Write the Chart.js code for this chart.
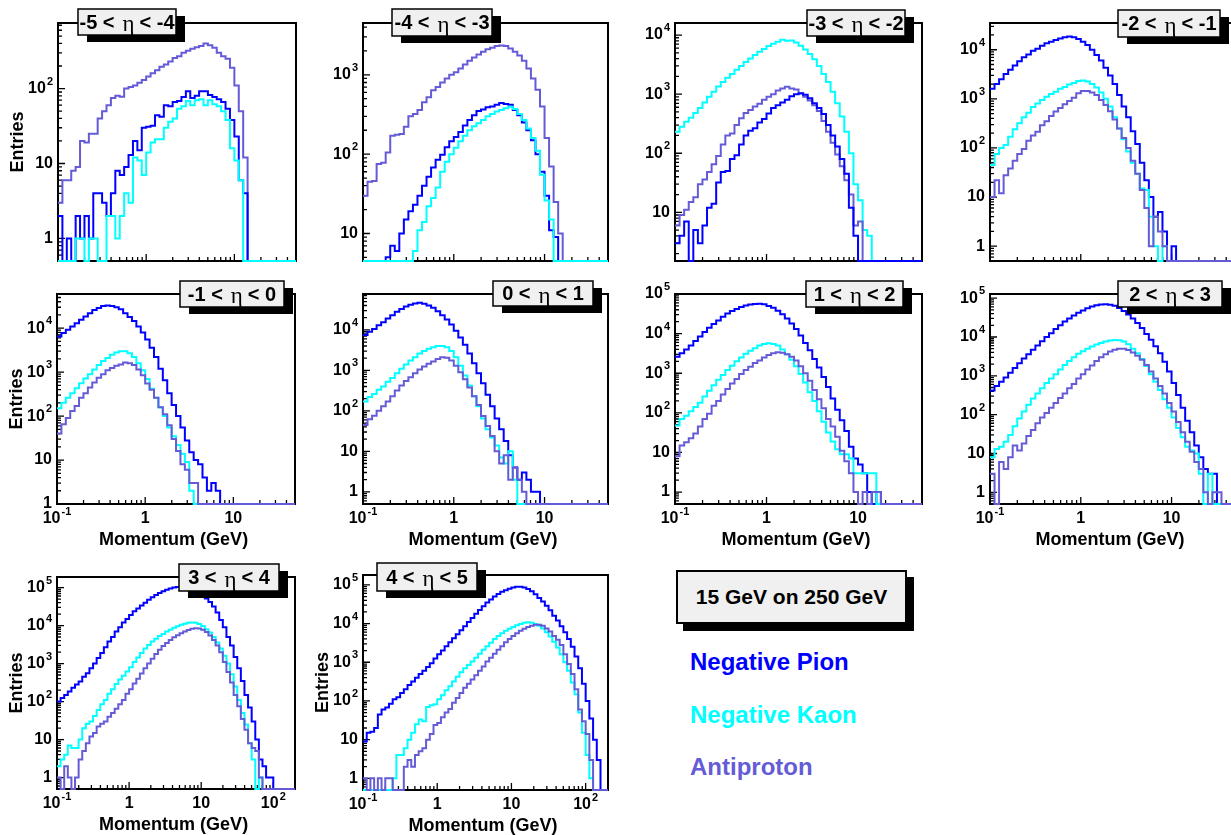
<!DOCTYPE html>
<html>
<head>
<meta charset="utf-8">
<title>Momentum spectra, 15 GeV on 250 GeV</title>
<script src="https://cdn.jsdelivr.net/npm/chart.js@4.4.1/dist/chart.umd.min.js"></script>
<style>
  html, body { margin: 0; padding: 0; background: #fff; }
  body { width: 1231px; height: 835px; overflow: hidden; position: relative;
         font-family: "Liberation Sans", Arial, sans-serif; }
  canvas { position: absolute; }
  .legend-box { position: absolute; left: 676px; top: 570px; width: 231px; height: 54px;
                box-sizing: border-box; background: #f0f0f0; border: 2px solid #000;
                box-shadow: 7px 7px 0 #000; font-weight: bold; font-size: 21px;
                line-height: 50px; text-align: center; color: #000; }
  .legend-item { position: absolute; left: 690px; font-weight: bold; font-size: 24px; line-height: 24px; }
</style>
</head>
<body>
<div class="legend-box">15 GeV on 250 GeV</div>
<div class="legend-item" style="top:650px;color:#0000ff">Negative Pion</div>
<div class="legend-item" style="top:703px;color:#00ffff">Negative Kaon</div>
<div class="legend-item" style="top:755px;color:#655bd6">Antiproton</div>

<script>
// histogram binning: 20 bins per decade starting at 0.1 GeV
const binsPerDecade = 20;
const pMin = 0.1;

// eta ranges of the ten panels
const etaRanges = [[-5, -4], [-4, -3], [-3, -2], [-2, -1], [-1, 0], [0, 1], [1, 2], [2, 3], [3, 4], [4, 5]];
// axis ranges
const pMax = [50, 50, 50, 50, 50, 50, 50, 50, 200, 200];
const entriesMin = [0.5, 4.5, 1.5, 0.5, 1, 0.5, 0.5, 0.5, 0.5, 0.5];
const entriesMax = [750, 4500, 16000, 35000, 60000, 77000, 100000, 128000, 190000, 180000];

// entries per bin (bin k starts at 0.1 * 10^(k/20) GeV)
const pion_m5_m4 = [2,0,1,0,2,1,2,1,4,4, 3,2,4,8,7,9,13,20,15,30, 31,32,44,42,60,58,66,68,77,92, 75,80,92,92,82,77,72,66,54,38, 23,6,4];
const kaon_m5_m4 = [0,0,0,0,1,1,0,1,1,0, 0,2,2,1,2,4,3,12,11,7, 14,19,21,21,30,36,40,54,58,68, 60,70,72,60,70,62,58,50,38,16, 11,6];
const pbar_m5_m4 = [3,6,6,8,9,20,19,25,25,40, 50,60,75,80,78,100,105,110,120,130, 145,160,175,195,210,230,255,270,300,320, 340,355,370,400,380,350,300,270,250,190, 110,50,12];

const pion_m4_m3 = [0,0,0,0,0,5,7,6,10,15, 19,23,30,40,52,68,85,98,122,145, 165,190,230,270,310,350,365,390,400,420, 440,430,420,360,310,250,200,150,100,60, 30,11,9];
const kaon_m4_m3 = [0,0,0,0,0,0,0,0,0,0, 0,6,11,14,22,28,38,60,80,100, 120,145,170,200,225,245,270,300,320,345, 360,380,395,370,320,270,210,160,110,55, 26,15];
const pbar_m4_m3 = [30,45,46,75,78,105,170,175,180,222, 300,320,360,450,520,640,700,800,900,1000, 1080,1200,1350,1500,1650,1800,1950,2100,2200,2300, 2350,2300,2150,1950,1750,1500,1200,900,650,400, 160,70,25,10];

const pion_m3_m2 = [3,4,7,0,5,3,6,12,14,32, 48,50,80,92,140,200,240,265,330,380, 470,580,650,720,800,920,1000,1030,980,850, 700,580,460,300,200,130,80,45,12,4];
const kaon_m3_m2 = [230,280,340,400,480,580,720,900,1100,1350, 1600,1900,2200,2600,3000,3500,4000,4600,5200,5800, 6500,7100,7700,8300,8000,8100,7500,6600,5700,4800, 3900,3000,2200,1600,1100,700,420,230,100,30, 16,5,4];
const pbar_m3_m2 = [6,9,11,15,18,30,36,48,65,90, 140,200,215,300,390,480,540,620,690,800, 900,1000,1150,1250,1340,1250,1200,1050,900,780, 650,520,350,230,150,95,60,35,20,6, 7];

const pion_m2_m1 = [1600,2000,2500,3200,3900,4800,5800,7000,8000,9500, 10500,12000,13500,14500,15800,17000,18000,18500,18000,16500, 14500,12500,10000,7800,6000,4300,3000,2000,1200,700, 420,220,120,50,22,10,4,5,2,0, 1];
const kaon_m2_m1 = [45,75,100,115,170,240,320,420,520,680, 800,950,1100,1250,1400,1600,1750,1950,2100,2300, 2350,2250,2000,1700,1350,1000,700,420,250,150, 85,50,30,15,14,4,1,0,1];
const pbar_m2_m1 = [10,22,12,28,38,55,75,95,140,180, 215,290,350,450,550,650,780,900,1050,1300, 1450,1450,1350,1200,950,750,560,380,250,160, 100,55,30,14,6,1,4,2,1];

const pion_m1_0 = [6500,7800,9200,11000,13000,15500,18500,22000,26000,29000, 32000,33000,32000,30000,27000,22000,18000,14500,11000,8000, 5500,3600,2200,1200,650,330,180,100,55,28, 15,10,8,4,2,3,2];
const kaon_m1_0 = [150,200,260,330,430,560,720,900,1150,1450, 1800,2100,2500,2800,3000,3000,2700,2200,1600,1100, 700,420,260,160,100,55,35,22,14,9, 2];
const pbar_m1_0 = [40,65,90,130,170,260,330,450,580,750, 900,1100,1250,1400,1500,1650,1600,1450,1150,850, 550,400,260,160,110,62,30,16,8,6, 3,3];

const pion_0_1 = [7500,9000,10500,13000,15500,19000,23000,28000,33000,38000, 42000,45000,46500,44000,40000,35000,29000,23000,18000,13500, 9500,6500,4300,2600,1500,850,480,250,130,65, 35,18,8,4,2,3,2,1,1];
const kaon_0_1 = [170,220,260,330,400,520,650,850,1100,1400, 1750,2100,2600,3000,3400,3700,4000,4000,3700,3000, 2100,1300,750,420,230,130,65,35,22,14, 7,5,10,2];
const pbar_0_1 = [45,62,76,100,130,170,230,320,420,550, 680,850,1050,1250,1450,1650,1900,2100,2050,1750, 1300,900,600,380,230,140,75,42,24,10, 5,8,2,4,2,1];

const pion_1_2 = [2600,3200,4000,5000,6500,8500,11000,14000,17500,21500, 26500,32000,37000,42000,47000,51000,54000,56000,56500,55000, 50000,45000,38000,31000,24000,18000,13000,9000,5800,3800, 2300,1400,800,450,230,120,65,35,14,7, 5,3,1,0,1];
const kaon_1_2 = [48,70,85,110,140,180,260,360,500,680, 900,1200,1550,2000,2500,3100,3700,4300,5000,5500, 5700,5500,5000,4000,3000,2200,1500,950,580,330, 200,110,60,32,19,12,9,9,7,3, 3,3,3,3];
const pbar_1_2 = [8,15,18,23,30,45,70,95,150,200, 290,400,550,720,950,1200,1450,1800,2100,2500, 2900,3200,3400,3300,3000,2600,2100,1500,1000,650, 380,220,130,70,45,25,11,6,3,1, 0,1,0,1,1];

const pion_2_3 = [420,550,700,900,1200,1600,2100,2800,3600,4700, 6000,7800,10000,12500,16000,20000,25000,30000,36000,42000, 48000,55000,61000,66000,69000,70000,68000,64000,56000,47000, 38000,30000,23000,17000,12000,8500,5800,3800,2300,1300, 650,320,150,70,35,16,8,4,3,3];
const kaon_2_3 = [8,13,15,20,30,50,80,120,180,260, 350,480,650,850,1100,1450,1900,2400,3000,3700, 4300,5000,5700,6400,7000,7600,8100,8400,8300,7700, 6500,5000,3800,2700,1800,1100,700,430,250,150, 85,45,26,15,12,10,3,0,3];
const pbar_2_3 = [3,0,6,4,8,16,12,18,28,40, 60,85,110,150,200,270,350,480,620,850, 1100,1450,1850,2400,3000,3600,4200,4700,5000,5000, 4600,4000,3300,2600,1900,1300,850,550,350,200, 120,65,35,20,11,6,4,1,0,1, 1];

const pion_3_4 = [100,125,150,185,230,280,340,450,560,750, 1000,1400,1900,2700,3800,5000,7000,9000,12000,15000, 19000,24000,28000,34000,40000,48000,56000,64000,72000,80000, 88000,95000,100000,103000,103000,100000,95000,88000,80000,70000, 60000,52000,42000,32000,22000,14000,9000,5000,3000,1500, 750,350,150,70,30,10,3,2,1,1];
const kaon_3_4 = [2,3,4,7,6,6,10,20,26,30, 42,60,85,110,160,210,290,380,480,620, 800,1100,1450,1900,2500,3100,3800,4500,5300,6000, 7000,7800,8800,9600,10500,11200,11800,12000,11800,11000, 9800,8000,6600,5000,3600,2500,1600,1000,520,250, 110,50,25,8,3,0,1];
const pbar_3_4 = [1,0,2,1,0,1,3,5,8,12, 15,22,26,30,40,50,65,85,110,160, 210,300,400,550,750,1000,1350,1800,2300,2900, 3500,4200,4900,5600,6300,7000,7700,8200,8500,8400, 7800,6800,5500,4200,3000,2000,1100,600,320,150, 75,35,18,8,6,5,1];

const pion_4_5 = [9,15,16,20,45,60,68,85,110,125, 160,200,260,320,400,500,600,760,950,1250, 1600,2000,2600,3300,4200,5300,6700,8500,11000,14000, 18000,22500,28000,35000,42000,50000,58000,66000,73000,80000, 86000,90000,90000,85000,78000,68000,57000,46000,37000,29000, 22000,16000,12000,8500,6000,4000,2500,1400,700,280, 100,35,10,3];
const kaon_4_5 = [0,0,0,0,0,0,0,0,1,4, 4,6,10,15,25,33,30,70,78,82, 110,140,190,240,320,420,550,700,850,1050, 1300,1650,2100,2600,3200,4000,4800,5600,6500,7300, 8200,9000,9800,10500,10800,10500,9800,8800,7500,6000, 4600,3400,2400,1600,1000,600,300,150,50,15, 4,1];
const pbar_4_5 = [1,0,1,0,1,0,1,1,0,0, 0,2,3,2,4,5,6,10,14,24, 27,38,50,62,90,120,160,220,280,360, 460,600,780,1050,1300,1650,2100,2600,3300,4000, 4800,5600,6500,7300,8100,8800,9300,9300,8800,7500, 6200,4800,3800,2800,1600,900,500,200,60,30, 14,3];

const pionSeries = [pion_m5_m4, pion_m4_m3, pion_m3_m2, pion_m2_m1, pion_m1_0, pion_0_1, pion_1_2, pion_2_3, pion_3_4, pion_4_5];
const kaonSeries = [kaon_m5_m4, kaon_m4_m3, kaon_m3_m2, kaon_m2_m1, kaon_m1_0, kaon_0_1, kaon_1_2, kaon_2_3, kaon_3_4, kaon_4_5];
const pbarSeries = [pbar_m5_m4, pbar_m4_m3, pbar_m3_m2, pbar_m2_m1, pbar_m1_0, pbar_0_1, pbar_1_2, pbar_2_3, pbar_3_4, pbar_4_5];

const colors = { pion: '#0000ff', kaon: '#00ffff', pbar: '#655bd6' };

// page layout of each frame, its eta box, and which histogram is drawn on top
const layout = [
  { left: 58,  top: 23,  width: 238, height: 238, box: [78, 9, 98, 26],    xLabels: false, yTitle: true,  front: ['kaon', 'pion', 'pbar'] },
  { left: 363, top: 23,  width: 245, height: 238, box: [392, 9, 100, 27],  xLabels: false, yTitle: false, front: ['kaon', 'pion', 'pbar'] },
  { left: 675, top: 23,  width: 247, height: 238, box: [807, 10, 98, 26],  xLabels: false, yTitle: false, front: ['pion', 'pbar', 'kaon'] },
  { left: 990, top: 23,  width: 245, height: 238, box: [1118, 10, 102, 27], xLabels: false, yTitle: false, front: ['pbar', 'kaon', 'pion'] },
  { left: 57,  top: 294, width: 238, height: 210, box: [180, 281, 104, 26], xLabels: true,  yTitle: true,  front: ['pbar', 'kaon', 'pion'] },
  { left: 363, top: 294, width: 245, height: 210, box: [493, 281, 100, 25], xLabels: true,  yTitle: false, front: ['pbar', 'kaon', 'pion'] },
  { left: 675, top: 294, width: 247, height: 210, box: [806, 281, 97, 26],  xLabels: true,  yTitle: false, front: ['pbar', 'kaon', 'pion'] },
  { left: 990, top: 294, width: 245, height: 210, box: [1118, 281, 104, 26], xLabels: true, yTitle: false, front: ['pbar', 'kaon', 'pion'] },
  { left: 57,  top: 577, width: 238, height: 212, box: [179, 564, 100, 27], xLabels: true,  yTitle: true,  front: ['pbar', 'kaon', 'pion'] },
  { left: 363, top: 575, width: 245, height: 215, box: [377, 563, 100, 28], xLabels: true,  yTitle: true,  front: ['pbar', 'kaon', 'pion'] }
];

const pad = { left: 58, right: 12, top: 25, bottom: 50 };
const sansBold = (size) => `bold ${size}px "Liberation Sans", Arial, sans-serif`;

function histPoints(values, xMax, yMin) {
  const nBins = Math.ceil(Math.log10(xMax / pMin) * binsPerDecade - 1e-9);
  const pts = [];
  let last = yMin;
  for (let k = 0; k < nBins; k++) {
    const v = values[k] > 0 ? values[k] : 0;
    last = Math.max(v, yMin);
    pts.push({ x: pMin * Math.pow(10, k / binsPerDecade), y: last });
  }
  pts.push({ x: xMax, y: last });
  return pts;
}

function drawPowLabel(ctx, exp, x, y, align) {
  const base = exp === 0 ? '1' : '10';
  const sup = exp === 0 || exp === 1 ? '' : String(exp);
  ctx.font = sansBold(16);
  const wb = ctx.measureText(base).width;
  let ws = 0;
  if (sup) { ctx.font = sansBold(11); ws = ctx.measureText(sup).width + 1; }
  const w = wb + ws;
  const x0 = align === 'right' ? x - w : x - w / 2;
  ctx.textAlign = 'left';
  ctx.textBaseline = 'middle';
  ctx.font = sansBold(16);
  ctx.fillText(base, x0, y);
  if (sup) { ctx.font = sansBold(11); ctx.fillText(sup, x0 + wb + 1, y - 7); }
}

function makeFramePlugin(i, cvLeft, cvTop) {
  const lay = layout[i];
  return {
    id: 'rootFrame' + i,
    beforeDatasetsDraw(chart) {
      const { ctx, chartArea: a, scales: { x, y } } = chart;
      ctx.save();
      ctx.strokeStyle = '#000';
      ctx.lineWidth = 1.3;
      ctx.beginPath();
      for (let e = Math.floor(Math.log10(x.min)); e <= Math.ceil(Math.log10(x.max)); e++) {
        for (let m = 1; m <= 9; m++) {
          const v = m * Math.pow(10, e);
          if (v < x.min * 0.999 || v > x.max * 1.001) continue;
          const px = x.getPixelForValue(v);
          ctx.moveTo(px, a.bottom);
          ctx.lineTo(px, a.bottom - (m === 1 ? 7 : 4));
        }
      }
      for (let e = Math.floor(Math.log10(y.min)); e <= Math.ceil(Math.log10(y.max)); e++) {
        for (let m = 1; m <= 9; m++) {
          const v = m * Math.pow(10, e);
          if (v < y.min * 0.999 || v > y.max * 1.001) continue;
          const py = y.getPixelForValue(v);
          ctx.moveTo(a.left, py);
          ctx.lineTo(a.left + (m === 1 ? 7 : 4), py);
        }
      }
      ctx.stroke();
      ctx.lineWidth = 2;
      ctx.strokeRect(a.left, a.top, a.right - a.left, a.bottom - a.top);
      ctx.restore();
    },
    afterDraw(chart) {
      const { ctx, chartArea: a, scales: { x, y } } = chart;
      ctx.save();
      ctx.fillStyle = '#000';

      if (lay.yTitle) {
        ctx.save();
        ctx.translate(a.left - 40, (a.top + a.bottom) / 2);
        ctx.rotate(-Math.PI / 2);
        ctx.font = sansBold(18);
        ctx.textAlign = 'center';
        ctx.textBaseline = 'middle';
        ctx.fillText('Entries', 0, 0);
        ctx.restore();
      }

      // y tick labels at decades
      for (let e = Math.ceil(Math.log10(y.min) - 1e-9); e <= Math.floor(Math.log10(y.max) + 1e-9); e++) {
        drawPowLabel(ctx, e, a.left - 5, y.getPixelForValue(Math.pow(10, e)), 'right');
      }

      if (lay.xLabels) {
        for (let e = Math.ceil(Math.log10(x.min) - 1e-9); e <= Math.floor(Math.log10(x.max) + 1e-9); e++) {
          drawPowLabel(ctx, e, x.getPixelForValue(Math.pow(10, e)), a.bottom + 15, 'center');
        }
        ctx.font = sansBold(18);
        ctx.textAlign = 'center';
        ctx.textBaseline = 'middle';
        ctx.fillText('Momentum (GeV)', a.left + (a.right - a.left) * 0.49, a.bottom + 36);
      }

      // eta range box with shadow
      const [bx, by, bw, bh] = lay.box;
      const X = bx - cvLeft, Y = by - cvTop;
      ctx.fillStyle = '#000';
      ctx.fillRect(X + 9, Y + 7, bw, bh);
      ctx.fillStyle = '#f0f0f0';
      ctx.fillRect(X, Y, bw, bh);
      ctx.strokeStyle = '#000';
      ctx.lineWidth = 1.5;
      ctx.strokeRect(X, Y, bw, bh);
      const [lo, hi] = etaRanges[i];
      const leftTxt = `${lo} <`, rightTxt = `< ${hi}`;
      const serif = '23px "Liberation Serif", "DejaVu Serif", serif';
      ctx.font = sansBold(20);
      const wl = ctx.measureText(leftTxt).width;
      const wr = ctx.measureText(rightTxt).width;
      ctx.font = serif;
      const we = ctx.measureText('\u03B7').width;
      const gapL = 8, gapR = 5;
      let cx = X + (bw - (wl + gapL + we + gapR + wr)) / 2;
      const cy = Y + bh / 2 + 1;
      ctx.fillStyle = '#000';
      ctx.textAlign = 'left';
      ctx.textBaseline = 'middle';
      ctx.font = sansBold(20);
      ctx.fillText(leftTxt, cx, cy);
      cx += wl + gapL;
      ctx.font = serif;
      ctx.fillText('\u03B7', cx, cy + 2);
      cx += we + gapR;
      ctx.font = sansBold(20);
      ctx.fillText(rightTxt, cx, cy);
      ctx.restore();
    }
  };
}

layout.forEach((lay, i) => {
  const cvLeft = lay.left - pad.left;
  const cvTop = lay.top - pad.top;
  const canvas = document.createElement('canvas');
  canvas.width = lay.width + pad.left + pad.right;
  canvas.height = lay.height + pad.top + pad.bottom;
  canvas.style.left = cvLeft + 'px';
  canvas.style.top = cvTop + 'px';
  canvas.style.width = canvas.width + 'px';
  canvas.style.height = canvas.height + 'px';
  document.body.appendChild(canvas);

  const byName = { pion: pionSeries[i], kaon: kaonSeries[i], pbar: pbarSeries[i] };
  const labels = { pion: 'Negative Pion', kaon: 'Negative Kaon', pbar: 'Antiproton' };
  // first dataset is painted last, i.e. on top
  const datasets = lay.front.map(name => ({
    label: labels[name],
    data: histPoints(byName[name], pMax[i], entriesMin[i]),
    borderColor: colors[name],
    borderWidth: 2,
    stepped: true,
    fill: false,
    pointRadius: 0,
    clip: 2
  }));

  new Chart(canvas, {
    type: 'line',
    data: { datasets },
    options: {
      responsive: false,
      animation: false,
      events: [],
      devicePixelRatio: 1,
      layout: { padding: pad },
      plugins: { legend: { display: false }, tooltip: { enabled: false }, title: { display: false } },
      scales: {
        x: { type: 'logarithmic', min: pMin, max: pMax[i], display: false },
        y: { type: 'logarithmic', min: entriesMin[i], max: entriesMax[i], display: false }
      }
    },
    plugins: [makeFramePlugin(i, cvLeft, cvTop)]
  });
});
</script>
</body>
</html>
